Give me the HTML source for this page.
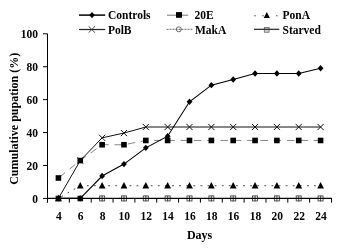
<!DOCTYPE html>
<html><head><meta charset="utf-8"><style>
html,body{margin:0;padding:0;background:#fff;}
body{width:355px;height:249px;overflow:hidden;}
svg{display:block;will-change:transform;}
.t{font-family:"Liberation Serif",serif;font-weight:bold;font-size:11.5px;fill:#000;}
.a{font-family:"Liberation Serif",serif;font-weight:bold;font-size:12px;fill:#000;}
</style></head><body>
<svg width="355" height="249" viewBox="0 0 355 249">
<line x1="43" y1="198.40" x2="47.5" y2="198.40" stroke="#000" stroke-width="1"/>
<text x="38.1" y="202.90" text-anchor="end" class="t">0</text>
<line x1="43" y1="165.48" x2="47.5" y2="165.48" stroke="#000" stroke-width="1"/>
<text x="38.1" y="169.98" text-anchor="end" class="t">20</text>
<line x1="43" y1="132.56" x2="47.5" y2="132.56" stroke="#000" stroke-width="1"/>
<text x="38.1" y="137.06" text-anchor="end" class="t">40</text>
<line x1="43" y1="99.64" x2="47.5" y2="99.64" stroke="#000" stroke-width="1"/>
<text x="38.1" y="104.14" text-anchor="end" class="t">60</text>
<line x1="43" y1="66.72" x2="47.5" y2="66.72" stroke="#000" stroke-width="1"/>
<text x="38.1" y="71.22" text-anchor="end" class="t">80</text>
<line x1="43" y1="33.80" x2="47.5" y2="33.80" stroke="#000" stroke-width="1"/>
<text x="38.1" y="38.30" text-anchor="end" class="t">100</text>
<line x1="47.50" y1="198.4" x2="47.50" y2="202.60" stroke="#000" stroke-width="1"/>
<line x1="69.35" y1="198.4" x2="69.35" y2="202.60" stroke="#000" stroke-width="1"/>
<line x1="91.19" y1="198.4" x2="91.19" y2="202.60" stroke="#000" stroke-width="1"/>
<line x1="113.04" y1="198.4" x2="113.04" y2="202.60" stroke="#000" stroke-width="1"/>
<line x1="134.88" y1="198.4" x2="134.88" y2="202.60" stroke="#000" stroke-width="1"/>
<line x1="156.73" y1="198.4" x2="156.73" y2="202.60" stroke="#000" stroke-width="1"/>
<line x1="178.58" y1="198.4" x2="178.58" y2="202.60" stroke="#000" stroke-width="1"/>
<line x1="200.42" y1="198.4" x2="200.42" y2="202.60" stroke="#000" stroke-width="1"/>
<line x1="222.27" y1="198.4" x2="222.27" y2="202.60" stroke="#000" stroke-width="1"/>
<line x1="244.12" y1="198.4" x2="244.12" y2="202.60" stroke="#000" stroke-width="1"/>
<line x1="265.96" y1="198.4" x2="265.96" y2="202.60" stroke="#000" stroke-width="1"/>
<line x1="287.81" y1="198.4" x2="287.81" y2="202.60" stroke="#000" stroke-width="1"/>
<line x1="309.65" y1="198.4" x2="309.65" y2="202.60" stroke="#000" stroke-width="1"/>
<line x1="331.50" y1="198.4" x2="331.50" y2="202.60" stroke="#000" stroke-width="1"/>
<text x="58.82" y="220.3" text-anchor="middle" class="t">4</text>
<text x="80.67" y="220.3" text-anchor="middle" class="t">6</text>
<text x="102.52" y="220.3" text-anchor="middle" class="t">8</text>
<text x="124.36" y="220.3" text-anchor="middle" class="t">10</text>
<text x="146.21" y="220.3" text-anchor="middle" class="t">12</text>
<text x="168.05" y="220.3" text-anchor="middle" class="t">14</text>
<text x="189.90" y="220.3" text-anchor="middle" class="t">16</text>
<text x="211.75" y="220.3" text-anchor="middle" class="t">18</text>
<text x="233.59" y="220.3" text-anchor="middle" class="t">16</text>
<text x="255.44" y="220.3" text-anchor="middle" class="t">18</text>
<text x="277.28" y="220.3" text-anchor="middle" class="t">20</text>
<text x="299.13" y="220.3" text-anchor="middle" class="t">22</text>
<text x="320.98" y="220.3" text-anchor="middle" class="t">24</text>
<text x="199.6" y="238.8" text-anchor="middle" class="a">Days</text>
<text transform="translate(18.2,118.8) rotate(-90)" text-anchor="middle" class="a">Cumulative pupation (%)</text>
<polyline points="58.42,198.40 80.27,185.73 102.12,185.73 123.96,185.73 145.81,185.73 167.65,185.73 189.50,185.73 211.35,185.73 233.19,185.73 255.04,185.73 276.88,185.73 298.73,185.73 320.58,185.73" fill="none" stroke="#333" stroke-width="0.9" stroke-dasharray="1.8,5.3" stroke-dashoffset="3.61"/>
<polyline points="58.42,177.99 80.27,160.54 102.12,144.74 123.96,144.74 145.81,140.46 167.65,140.46 189.50,140.46 211.35,140.46 233.19,140.46 255.04,140.46 276.88,140.46 298.73,140.46 320.58,140.46" fill="none" stroke="#888" stroke-width="1" stroke-dasharray="7.5,5.8" stroke-dashoffset="12.48"/>
<polyline points="58.42,198.40 80.27,160.54 102.12,137.83 123.96,133.05 145.81,127.00 167.65,127.00 189.50,127.00 211.35,127.00 233.19,127.00 255.04,127.00 276.88,127.00 298.73,127.00 320.58,127.00" fill="none" stroke="#111" stroke-width="1.0"/>
<polyline points="58.42,198.40 80.27,198.40 102.12,176.01 123.96,164.08 145.81,147.87 167.65,136.18 189.50,101.78 211.35,85.16 233.19,79.56 255.04,73.50 276.88,73.50 298.73,73.50 320.58,68.20" fill="none" stroke="#000" stroke-width="1.1"/>
<rect x="55.62" y="195.70" width="5.6" height="5.6" fill="#111"/>
<polygon points="58.42,194.66 61.82,201.26 55.02,201.26" fill="#000"/>
<rect x="55.62" y="175.19" width="5.6" height="5.6" fill="#000"/>
<polygon points="58.42,195.20 61.32,198.40 58.42,201.60 55.52,198.40" fill="#000"/>
<rect x="77.47" y="195.70" width="5.6" height="5.6" fill="#111"/>
<polygon points="80.27,181.99 83.67,188.58 76.87,188.58" fill="#000"/>
<rect x="77.47" y="157.74" width="5.6" height="5.6" fill="#000"/>
<path d="M77.17,157.44L83.37,163.64M83.37,157.44L77.17,163.64" stroke="#111" stroke-width="1.0" fill="none"/>
<polygon points="80.27,195.20 83.17,198.40 80.27,201.60 77.37,198.40" fill="#000"/>
<rect x="99.62" y="195.90" width="5.0" height="5.0" fill="none" stroke="#444" stroke-width="0.9"/>
<path d="M102.12,195.80V201.40" stroke="#333" stroke-width="0.9"/>
<polygon points="102.12,181.99 105.52,188.58 98.72,188.58" fill="#000"/>
<rect x="99.32" y="141.94" width="5.6" height="5.6" fill="#000"/>
<path d="M99.02,134.73L105.22,140.93M105.22,134.73L99.02,140.93" stroke="#111" stroke-width="1.0" fill="none"/>
<polygon points="102.12,172.81 105.02,176.01 102.12,179.21 99.22,176.01" fill="#000"/>
<rect x="121.46" y="195.90" width="5.0" height="5.0" fill="none" stroke="#444" stroke-width="0.9"/>
<path d="M123.96,195.80V201.40" stroke="#333" stroke-width="0.9"/>
<polygon points="123.96,181.99 127.36,188.58 120.56,188.58" fill="#000"/>
<rect x="121.16" y="141.94" width="5.6" height="5.6" fill="#000"/>
<path d="M120.86,129.95L127.06,136.15M127.06,129.95L120.86,136.15" stroke="#111" stroke-width="1.0" fill="none"/>
<polygon points="123.96,160.88 126.86,164.08 123.96,167.28 121.06,164.08" fill="#000"/>
<rect x="143.31" y="195.90" width="5.0" height="5.0" fill="none" stroke="#444" stroke-width="0.9"/>
<path d="M145.81,195.80V201.40" stroke="#333" stroke-width="0.9"/>
<polygon points="145.81,181.99 149.21,188.58 142.41,188.58" fill="#000"/>
<rect x="143.01" y="137.66" width="5.6" height="5.6" fill="#000"/>
<path d="M142.71,123.90L148.91,130.10M148.91,123.90L142.71,130.10" stroke="#111" stroke-width="1.0" fill="none"/>
<polygon points="145.81,144.67 148.71,147.87 145.81,151.07 142.91,147.87" fill="#000"/>
<rect x="165.15" y="195.90" width="5.0" height="5.0" fill="none" stroke="#444" stroke-width="0.9"/>
<path d="M167.65,195.80V201.40" stroke="#333" stroke-width="0.9"/>
<polygon points="167.65,181.99 171.05,188.58 164.25,188.58" fill="#000"/>
<rect x="164.85" y="137.66" width="5.6" height="5.6" fill="#000"/>
<path d="M164.55,123.90L170.75,130.10M170.75,123.90L164.55,130.10" stroke="#111" stroke-width="1.0" fill="none"/>
<polygon points="167.65,132.98 170.55,136.18 167.65,139.38 164.75,136.18" fill="#000"/>
<rect x="187.00" y="195.90" width="5.0" height="5.0" fill="none" stroke="#444" stroke-width="0.9"/>
<path d="M189.50,195.80V201.40" stroke="#333" stroke-width="0.9"/>
<polygon points="189.50,181.99 192.90,188.58 186.10,188.58" fill="#000"/>
<rect x="186.70" y="137.66" width="5.6" height="5.6" fill="#000"/>
<path d="M186.40,123.90L192.60,130.10M192.60,123.90L186.40,130.10" stroke="#111" stroke-width="1.0" fill="none"/>
<polygon points="189.50,98.58 192.40,101.78 189.50,104.98 186.60,101.78" fill="#000"/>
<rect x="208.85" y="195.90" width="5.0" height="5.0" fill="none" stroke="#444" stroke-width="0.9"/>
<path d="M211.35,195.80V201.40" stroke="#333" stroke-width="0.9"/>
<polygon points="211.35,181.99 214.75,188.58 207.95,188.58" fill="#000"/>
<rect x="208.55" y="137.66" width="5.6" height="5.6" fill="#000"/>
<path d="M208.25,123.90L214.45,130.10M214.45,123.90L208.25,130.10" stroke="#111" stroke-width="1.0" fill="none"/>
<polygon points="211.35,81.96 214.25,85.16 211.35,88.36 208.45,85.16" fill="#000"/>
<rect x="230.69" y="195.90" width="5.0" height="5.0" fill="none" stroke="#444" stroke-width="0.9"/>
<path d="M233.19,195.80V201.40" stroke="#333" stroke-width="0.9"/>
<polygon points="233.19,181.99 236.59,188.58 229.79,188.58" fill="#000"/>
<rect x="230.39" y="137.66" width="5.6" height="5.6" fill="#000"/>
<path d="M230.09,123.90L236.29,130.10M236.29,123.90L230.09,130.10" stroke="#111" stroke-width="1.0" fill="none"/>
<polygon points="233.19,76.36 236.09,79.56 233.19,82.76 230.29,79.56" fill="#000"/>
<rect x="252.54" y="195.90" width="5.0" height="5.0" fill="none" stroke="#444" stroke-width="0.9"/>
<path d="M255.04,195.80V201.40" stroke="#333" stroke-width="0.9"/>
<polygon points="255.04,181.99 258.44,188.58 251.64,188.58" fill="#000"/>
<rect x="252.24" y="137.66" width="5.6" height="5.6" fill="#000"/>
<path d="M251.94,123.90L258.14,130.10M258.14,123.90L251.94,130.10" stroke="#111" stroke-width="1.0" fill="none"/>
<polygon points="255.04,70.30 257.94,73.50 255.04,76.70 252.14,73.50" fill="#000"/>
<rect x="274.38" y="195.90" width="5.0" height="5.0" fill="none" stroke="#444" stroke-width="0.9"/>
<path d="M276.88,195.80V201.40" stroke="#333" stroke-width="0.9"/>
<polygon points="276.88,181.99 280.28,188.58 273.48,188.58" fill="#000"/>
<rect x="274.08" y="137.66" width="5.6" height="5.6" fill="#000"/>
<path d="M273.78,123.90L279.98,130.10M279.98,123.90L273.78,130.10" stroke="#111" stroke-width="1.0" fill="none"/>
<polygon points="276.88,70.30 279.78,73.50 276.88,76.70 273.98,73.50" fill="#000"/>
<rect x="296.23" y="195.90" width="5.0" height="5.0" fill="none" stroke="#444" stroke-width="0.9"/>
<path d="M298.73,195.80V201.40" stroke="#333" stroke-width="0.9"/>
<polygon points="298.73,181.99 302.13,188.58 295.33,188.58" fill="#000"/>
<rect x="295.93" y="137.66" width="5.6" height="5.6" fill="#000"/>
<path d="M295.63,123.90L301.83,130.10M301.83,123.90L295.63,130.10" stroke="#111" stroke-width="1.0" fill="none"/>
<polygon points="298.73,70.30 301.63,73.50 298.73,76.70 295.83,73.50" fill="#000"/>
<rect x="318.08" y="195.90" width="5.0" height="5.0" fill="none" stroke="#444" stroke-width="0.9"/>
<path d="M320.58,195.80V201.40" stroke="#333" stroke-width="0.9"/>
<polygon points="320.58,181.99 323.98,188.58 317.18,188.58" fill="#000"/>
<rect x="317.78" y="137.66" width="5.6" height="5.6" fill="#000"/>
<path d="M317.48,123.90L323.68,130.10M323.68,123.90L317.48,130.10" stroke="#111" stroke-width="1.0" fill="none"/>
<polygon points="320.58,65.00 323.48,68.20 320.58,71.40 317.68,68.20" fill="#000"/>
<line x1="47.5" y1="33.8" x2="47.5" y2="202.60" stroke="#000" stroke-width="1"/>
<line x1="47.0" y1="198.4" x2="332.0" y2="198.4" stroke="#000" stroke-width="1.1"/>
<line x1="79" y1="15.1" x2="105.2" y2="15.1" stroke="#000" stroke-width="1.5"/>
<polygon points="92.00,12.00 94.70,15.10 92.00,18.20 89.30,15.10" fill="#000"/>
<text x="108.0" y="19.3" class="t">Controls</text>
<line x1="79" y1="29.5" x2="105.2" y2="29.5" stroke="#222" stroke-width="1.2"/>
<path d="M88.60,26.30L95.00,32.70M95.00,26.30L88.60,32.70" stroke="#333" stroke-width="0.9" fill="none"/>
<text x="107.9" y="33.8" class="t">PolB</text>
<line x1="167" y1="15.2" x2="188.2" y2="15.2" stroke="#777" stroke-width="1"/>
<rect x="176" y="12.1" width="6" height="5.7" fill="#000"/>
<text x="194.6" y="19.3" class="t">20E</text>
<line x1="166.5" y1="29.3" x2="192.5" y2="29.3" stroke="#555" stroke-width="0.9" stroke-dasharray="2,1"/>
<circle cx="178.8" cy="29.3" r="2.5" fill="none" stroke="#444" stroke-width="0.8"/>
<text x="195.0" y="33.8" class="t">MakA</text>
<rect x="254.3" y="15.2" width="1.4" height="1.1" fill="#555"/>
<rect x="262.3" y="15.2" width="1.4" height="1.1" fill="#555"/>
<rect x="276.1" y="15.2" width="1.4" height="1.1" fill="#555"/>
<polygon points="266.80,11.89 269.90,17.90 263.70,17.90" fill="#000"/>
<text x="282.5" y="19.3" class="t">PonA</text>
<rect x="264.3" y="27.4" width="4.8" height="4.8" fill="#d4d4d4" stroke="#666" stroke-width="0.8"/>
<line x1="254" y1="29.3" x2="279.3" y2="29.3" stroke="#222" stroke-width="1.2"/>
<text x="282.5" y="33.8" class="t">Starved</text>
</svg>
</body></html>
